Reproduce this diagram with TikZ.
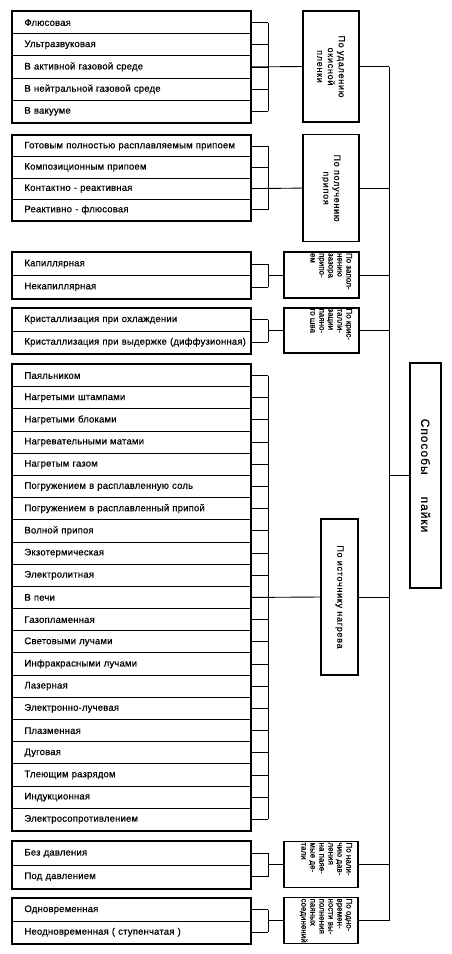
\documentclass[tikz,border=0pt]{standalone}
\usepackage{fontspec}
\setmainfont[FakeBold=0.5]{Liberation Sans}
\newfontfamily\catfont[FakeBold=0.5,LetterSpace=8]{Liberation Sans}
\newfontfamily\rowfont[FakeBold=0.5,LetterSpace=2]{Liberation Sans}
\newcommand\catlines[2]{\parbox[c][#1][t]{44pt}{\raggedright #2}}
\begin{document}
\begin{tikzpicture}[x=1pt,y=-1pt,
  row/.style={draw, line width=0.9pt, minimum width=238pt, text width=214pt,
    inner xsep=12pt, inner ysep=0pt, align=left, anchor=north west,
    font=\rowfont\fontsize{9.5}{11}\selectfont},
  outer/.style={line width=1.6pt},
  conn/.style={line width=0.9pt},
  cat/.style={draw, line width=1.6pt, rotate=-90, inner sep=0pt, align=center,
    font=\catfont\fontsize{9}{10.8}\selectfont},
  smallcat/.style={draw, line width=1.6pt, rotate=-90, inner sep=0pt,
    font=\fontsize{8}{9}\selectfont},
  mainbox/.style={draw, line width=1.6pt, rotate=-90, inner sep=0pt, align=center,
    font=\catfont\fontsize{12}{14}\selectfont}]
\useasboundingbox (0,0) rectangle (451,954);
\coordinate (bx) at (268,0);
\coordinate (tx) at (389,0);

% ---------- group 1 ----------
\foreach \t [count=\i] in {Флюсовая, Ультразвуковая, В активной газовой среде,
  В нейтральной газовой среде, В вакууме}
  \node[row, minimum height=22.2pt] (a\i) at (12,{11+(\i-1)*22.2}) {\mbox{\t}};
\draw[outer] (a1.north west) rectangle (a5.south east);
\node[cat, minimum width=111pt, minimum height=56pt] (c1) at (331,66.5)
  {По удалению\\окисной\\пленки};
\foreach \i in {1,...,5} \draw[conn] (a\i.east) -- (a\i.east -| bx);
\draw[conn] (a1.east -| bx) -- (a5.east -| bx);
\draw[conn] (a3.east) -- (c1.south);

% ---------- group 2 ----------
\foreach \t [count=\i] in {Готовым полностью расплавляемым припоем,
  Композиционным припоем, Контактно - реактивная, Реактивно - флюсовая}
  \node[row, minimum height=21.25pt] (b\i) at (12,{135+(\i-1)*21.25}) {\mbox{\t}};
\draw[outer] (b1.north west) rectangle (b4.south east);
\node[cat, minimum width=107pt, minimum height=56pt] (c2) at (331,188.1)
  {По получению\\припоя};
\foreach \i in {1,...,4} \draw[conn] (b\i.east) -- (b\i.east -| bx);
\draw[conn] (b1.east -| bx) -- (b4.east -| bx);
\draw[conn] (b3.east) -- (c2.south);

% ---------- group 3 ----------
\foreach \t [count=\i] in {Капиллярная, Некапиллярная}
  \node[row, minimum height=23pt] (d\i) at (12,{252+(\i-1)*23}) {\mbox{\t}};
\draw[outer] (d1.north west) rectangle (d2.south east);
\node[smallcat, minimum width=46pt, minimum height=75pt] (c3) at (321.5,275)
  {\catlines{61pt}{По запол-\\нению\\зазора\\припо-\\ем}};
\foreach \i in {1,2} \draw[conn] (d\i.east) -- (d\i.east -| bx);
\draw[conn] (d1.east -| bx) -- (d2.east -| bx);
\draw[conn] (c3.south -| bx) -- (c3.south);

% ---------- group 4 ----------
\foreach \t [count=\i] in {Кристаллизация при охлаждении,
  Кристаллизация при выдержке (диффузионная)}
  \node[row, minimum height=22.5pt] (e\i) at (12,{308+(\i-1)*22.5}) {\mbox{\t}};
\draw[outer] (e1.north west) rectangle (e2.south east);
\node[smallcat, minimum width=45pt, minimum height=75pt] (c4) at (321.5,330.5)
  {\catlines{61pt}{По крис-\\талли-\\зации\\паяно-\\го шва}};
\foreach \i in {1,2} \draw[conn] (e\i.east) -- (e\i.east -| bx);
\draw[conn] (e1.east -| bx) -- (e2.east -| bx);
\draw[conn] (c4.south -| bx) -- (c4.south);

% ---------- group 5 ----------
\foreach \t [count=\i] in {Паяльником, Нагретыми штампами, Нагретыми блоками,
  Нагревательными матами, Нагретым газом, Погружением в расплавленную соль,
  Погружением в расплавленный припой, Волной припоя, Экзотермическая,
  Электролитная, В печи, Газопламенная, Световыми лучами,
  Инфракрасными лучами, Лазерная, Электронно-лучевая, Плазменная, Дуговая,
  Тлеющим разрядом, Индукционная, Электросопротивлением}
  \node[row, minimum height=22.19pt] (f\i) at (12,{364+(\i-1)*22.19}) {\mbox{\t}};
\draw[outer] (f1.north west) rectangle (f21.south east);
\node[cat, minimum width=156pt, minimum height=37pt] (c5) at (339.5,597)
  {По источнику нагрева};
\foreach \i in {1,...,21} \draw[conn] (f\i.east) -- (f\i.east -| bx);
\draw[conn] (f1.east -| bx) -- (f21.east -| bx);
\draw[conn] (f11.east) -- (c5.south);

% ---------- group 6 ----------
\foreach \t [count=\i] in {Без давления, Под давлением}
  \node[row, minimum height=23.5pt] (g\i) at (12,{841+(\i-1)*23.5}) {\mbox{\t}};
\draw[outer] (g1.north west) rectangle (g2.south east);
\node[smallcat, minimum width=46pt, minimum height=74pt] (c6) at (321,864.5)
  {\catlines{62pt}{По нали-\\чию дав-\\ления\\на паяе-\\мые де-\\тали}};
\foreach \i in {1,2} \draw[conn] (g\i.east) -- (g\i.east -| bx);
\draw[conn] (g1.east -| bx) -- (g2.east -| bx);
\draw[conn] (c6.south -| bx) -- (c6.south);

% ---------- group 7 ----------
\foreach \t [count=\i] in {Одновременная, Неодновременная ( ступенчатая )}
  \node[row, minimum height=22.5pt] (h\i) at (12,{898+(\i-1)*22.5}) {\mbox{\t}};
\draw[outer] (h1.north west) rectangle (h2.south east);
\node[smallcat, minimum width=46pt, minimum height=74pt] (c7) at (321,920.5)
  {\catlines{62pt}{По одно-\\времен-\\ности вы-\\полнения\\паяных\\соединений}};
\foreach \i in {1,2} \draw[conn] (h\i.east) -- (h\i.east -| bx);
\draw[conn] (h1.east -| bx) -- (h2.east -| bx);
\draw[conn] (c7.south -| bx) -- (c7.south);

% ---------- main box and trunk ----------
\node[mainbox, minimum width=225pt, minimum height=31pt] (m) at (425.5,475.5)
  {Способы\hspace{22pt}пайки};
\foreach \c in {c1,c2,c3,c4,c5,c6,c7}
  \draw[conn] (\c.north) -- (\c.north -| tx);
\draw[conn] (c1.north -| tx) -- (c7.north -| tx);
\draw[conn] (m.south -| tx) -- (m.south);
\end{tikzpicture}
\end{document}
